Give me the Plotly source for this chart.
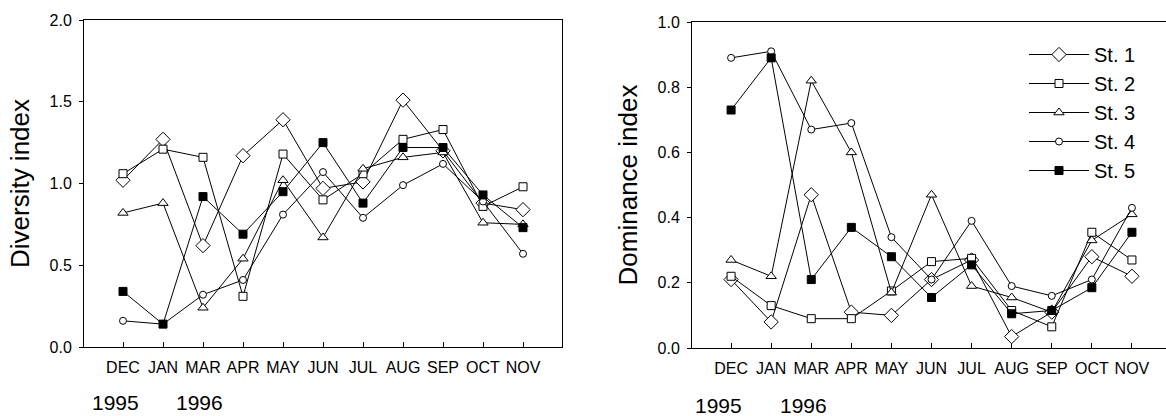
import plotly.graph_objects as go

months = ["DEC", "JAN", "MAR", "APR", "MAY", "JUN", "JUL", "AUG", "SEP", "OCT", "NOV"]
stations = ["St. 1", "St. 2", "St. 3", "St. 4", "St. 5"]

div_st1 = [1.02, 1.27, 0.62, 1.17, 1.39, 0.97, 1.01, 1.51, 1.20, 0.88, 0.84]
div_st2 = [1.06, 1.21, 1.16, 0.31, 1.18, 0.90, 1.06, 1.27, 1.33, 0.86, 0.98]
div_st3 = [0.82, 0.88, 0.24, 0.54, 1.02, 0.67, 1.09, 1.16, 1.19, 0.76, 0.75]
div_st4 = [0.16, 0.14, 0.32, 0.41, 0.81, 1.07, 0.79, 0.99, 1.12, 0.89, 0.57]
div_st5 = [0.34, 0.14, 0.92, 0.69, 0.95, 1.25, 0.88, 1.22, 1.22, 0.93, 0.73]

dom_st1 = [0.21, 0.08, 0.47, 0.11, 0.10, 0.21, 0.27, 0.035, 0.11, 0.28, 0.22]
dom_st2 = [0.22, 0.13, 0.09, 0.09, 0.175, 0.265, 0.275, 0.115, 0.065, 0.355, 0.27]
dom_st3 = [0.27, 0.22, 0.82, 0.60, 0.17, 0.47, 0.19, 0.155, 0.11, 0.33, 0.41]
dom_st4 = [0.89, 0.91, 0.67, 0.69, 0.34, 0.21, 0.39, 0.19, 0.16, 0.21, 0.43]
dom_st5 = [0.73, 0.89, 0.21, 0.37, 0.28, 0.155, 0.255, 0.105, 0.115, 0.185, 0.355]

div_vals = [div_st1, div_st2, div_st3, div_st4, div_st5]
dom_vals = [dom_st1, dom_st2, dom_st3, dom_st4, dom_st5]

symbols = ["diamond", "square", "triangle-up", "circle", "square"]
sizes = [11, 8, 9, 7, 8]
fills = ["white", "white", "white", "white", "black"]

W, H = 1166, 416
FONT = "Liberation Sans, Arial, sans-serif"

fig = go.Figure()

for i, name in enumerate(stations):
    mk = dict(symbol=symbols[i], size=sizes[i], color=fills[i],
              line=dict(color="black", width=1))
    fig.add_trace(go.Scatter(x=months, y=div_vals[i], mode="lines+markers",
                             name=name, line=dict(color="black", width=1),
                             marker=mk, showlegend=False, xaxis="x", yaxis="y"))
for i, name in enumerate(stations):
    mk = dict(symbol=symbols[i], size=sizes[i], color=fills[i],
              line=dict(color="black", width=1))
    fig.add_trace(go.Scatter(x=months, y=dom_vals[i], mode="lines+markers",
                             name=name, line=dict(color="black", width=1),
                             marker=mk, showlegend=True, xaxis="x2", yaxis="y2"))

def px_x(p):
    return p / W

def px_y(p):
    return 1 - p / H

xcommon = dict(type="category", categoryorder="array", categoryarray=months,
               showline=True, linecolor="black", linewidth=1, mirror=True,
               ticks="inside", ticklen=5, tickcolor="black", showgrid=False,
               zeroline=False, tickfont=dict(family=FONT, size=16, color="black"),
               ticklabelstandoff=6, automargin=False)
ycommon = dict(showline=True, linecolor="black", linewidth=1,
               ticks="outside", ticklen=4, tickcolor="black", showgrid=False,
               zeroline=False, tickfont=dict(family=FONT, size=16, color="black"),
               tickformat=".1f", ticklabelstandoff=4, automargin=False)

fig.update_layout(
    width=W, height=H, autosize=False,
    margin=dict(l=0, r=0, t=0, b=0, autoexpand=False),
    paper_bgcolor="white", plot_bgcolor="white",
    font=dict(family=FONT, color="black"),
    xaxis=dict(xcommon, domain=[px_x(84), px_x(562)], range=[-0.975, 10.975], anchor="y"),
    yaxis=dict(ycommon, domain=[px_y(347), px_y(20)], range=[0, 2.0], dtick=0.5,
               mirror=True, anchor="x",
               title=dict(text="Diversity index", font=dict(family=FONT, size=26), standoff=12)),
    xaxis2=dict(xcommon, domain=[px_x(692), 1.0], range=[-0.975, 10.85], anchor="y2"),
    yaxis2=dict(ycommon, domain=[px_y(348), px_y(22)], range=[0, 1.0], dtick=0.2,
                mirror=False, anchor="x2",
                title=dict(text="Dominance index", font=dict(family=FONT, size=26), standoff=12)),
    legend=dict(x=px_x(1024), y=px_y(35), xanchor="left", yanchor="top",
                bgcolor="rgba(0,0,0,0)", borderwidth=0,
                font=dict(family=FONT, size=20, color="black"),
                tracegroupgap=0, itemwidth=60),
    showlegend=True,
)

years = [("1995", 115, 402), ("1996", 199, 402), ("1995", 718, 405), ("1996", 803, 405)]
for txt, xp, yp in years:
    fig.add_annotation(text=txt, x=px_x(xp), y=px_y(yp), xref="paper", yref="paper",
                       xanchor="center", yanchor="middle", showarrow=False,
                       font=dict(family=FONT, size=21, color="black"))

post = ("document.documentElement.style.margin='0';"
        "document.documentElement.style.overflow='hidden';"
        "document.body.style.margin='0';document.body.style.padding='0';"
        "document.body.style.overflow='hidden';"
        "document.body.style.height='416px';"
        "var gd=document.getElementById('{plot_id}');"
        "gd.style.position='fixed';gd.style.top='0px';gd.style.left='0px';"
        "Plotly.relayout(gd,{width:1166,height:416});")

fig.write_html("out.html", config={"responsive": False, "displayModeBar": False},
               post_script=post)
